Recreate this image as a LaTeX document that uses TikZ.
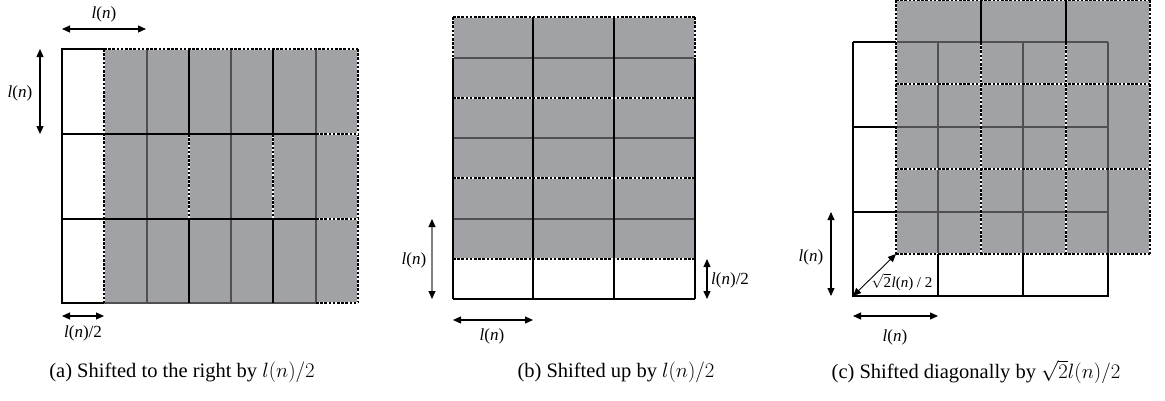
\documentclass[tikz,border=0pt]{standalone}
\usepackage{fontspec}
\setmainfont{Liberation Serif}
\usetikzlibrary{arrows.meta}
\definecolor{cellgray}{RGB}{161,162,166}
\definecolor{gridgray}{RGB}{80,80,82}
\newcommand\lofn{\textit{l}(\textit{n})}
\begin{document}
\begin{tikzpicture}[x=1pt,y=-1pt,
  oblack/.style={line width=1.4pt, draw=black},
  ogray/.style={line width=1.4pt, draw=gridgray},
  sgrid/.style={line width=1.2pt, draw=black, dash pattern=on 2.6pt off 1.6pt, preaction={draw=white, solid, line width=1.2pt}},
  dimarrow/.style={line width=1.1pt, {Triangle[length=8pt,width=7pt,black]}-{Triangle[length=8pt,width=7pt,black]}},
  lab/.style={font=\fontsize{17}{20}\selectfont, inner sep=0pt},
  smalllab/.style={font=\fontsize{15}{18}\selectfont, inner sep=0pt},
  captext/.style={font=\fontsize{20.5}{24}\selectfont, inner sep=0pt}]
\useasboundingbox (0,0) rectangle (1165,400);

% ---------------- panel (a) ----------------
\fill[cellgray] (104,49) rectangle (358,303);
\foreach \x in {147,231,316} \draw[ogray] (\x,49) -- (\x,303);
\draw[ogray] (104,303) -- (316,303);
\foreach \x in {104,358} \draw[sgrid] (\x,49) -- (\x,303);
\foreach \x in {189,273} {
  \draw[oblack, line width=1.2pt] (\x,49) -- (\x,134);
  \draw[sgrid] (\x,134) -- (\x,219);
  \draw[oblack, line width=1.2pt] (\x,219) -- (\x,303);
}
\draw[sgrid] (104,49) -- (358,49);
\draw[sgrid] (316,303) -- (358,303);
\foreach \y in {134,219} {
  \draw[sgrid] (316,\y) -- (358,\y);
  \draw[oblack] (62,\y) -- (316,\y);
}
\draw[oblack] (104,49) -- (62,49) -- (62,303) -- (104,303);

\coordinate (a1) at (62,29); \coordinate (a2) at (146,29);
\draw[dimarrow] (a1) -- (a2);
\node[lab] (la1) at (104,14) {\lofn};
\coordinate (a3) at (40,49); \coordinate (a4) at (40,134);
\draw[dimarrow] (a3) -- (a4);
\node[lab] (la2) at (20,93) {\lofn};
\coordinate (a5) at (62,316); \coordinate (a6) at (104,316);
\draw[dimarrow] (a5) -- (a6);
\node[lab] (la3) at (83,333) {\lofn/2};

% ---------------- panel (b) ----------------
\fill[cellgray] (453,17) rectangle (695,259);
\foreach \y in {58,138,219} \draw[ogray] (453,\y) -- (695,\y);
\foreach \y in {17,98,178,259} \draw[sgrid] (453,\y) -- (695,\y);
\foreach \x in {453,695} {
  \draw[sgrid] (\x,17) -- (\x,58);
  \draw[oblack] (\x,58) -- (\x,299);
}
\foreach \x in {533,614} \draw[oblack, line width=1.2pt] (\x,17) -- (\x,299);
\draw[oblack] (453,299) -- (695,299);

\coordinate (b1) at (432,219); \coordinate (b2) at (432,299);
\draw[dimarrow, draw=gray] (b1) -- (b2);
\node[lab] (lb1) at (414,260) {\lofn};
\coordinate (b3) at (707,259); \coordinate (b4) at (707,299);
\draw[dimarrow] (b3) -- (b4);
\node[lab, anchor=west] (lb2) at (711,280) {\lofn/2};
\coordinate (b5) at (453,320); \coordinate (b6) at (533,320);
\draw[dimarrow] (b5) -- (b6);
\node[lab] (lb3) at (492,336) {\lofn};

% ---------------- panel (c) ----------------
\fill[cellgray] (896,0) rectangle (1150,254);
\foreach \x in {938,1023,1108} \draw[ogray] (\x,42) -- (\x,254);
\foreach \y in {42,127,212} \draw[ogray] (896,\y) -- (1108,\y);
\foreach \x in {896,981,1066,1150} \draw[sgrid] (\x,42) -- (\x,254);
\draw[sgrid] (896,0) -- (896,42);
\draw[sgrid] (1150,0) -- (1150,42);
\foreach \x in {981,1066} \draw[oblack, line width=1.2pt] (\x,0) -- (\x,42);
\foreach \y in {0,84,169,254} \draw[sgrid] (896,\y) -- (1150,\y);
\foreach \y in {42,127,212} \draw[oblack] (853,\y) -- (896,\y);
\draw[oblack] (853,42) -- (853,296) -- (1108,296) -- (1108,254);
\foreach \x in {938,1023} \draw[oblack] (\x,254) -- (\x,296);

\coordinate (c1) at (831,212); \coordinate (c2) at (831,296);
\draw[dimarrow] (c1) -- (c2);
\node[lab] (lc1) at (811,257) {\lofn};
\coordinate (c3) at (853,296); \coordinate (c4) at (896,254);
\draw[dimarrow, line width=0.9pt] (c3) -- (c4);
\node[smalllab] (lc2) at (902,282) {$\sqrt{\hbox{2}}$\kern0.5pt\lofn\ / 2};
\coordinate (c5) at (853,316); \coordinate (c6) at (938,316);
\draw[dimarrow] (c5) -- (c6);
\node[lab] (lc3) at (895,337) {\lofn};

% ---------------- captions ----------------
\node[captext] (capa) at (182,372) {(a) Shifted to the right by $l(n)/2$};
\node[captext] (capb) at (616,372) {(b) Shifted up by $l(n)/2$};
\node[captext] (capc) at (976,372) {(c) Shifted diagonally by $\sqrt{2}l(n)/2$};
\end{tikzpicture}
\end{document}
